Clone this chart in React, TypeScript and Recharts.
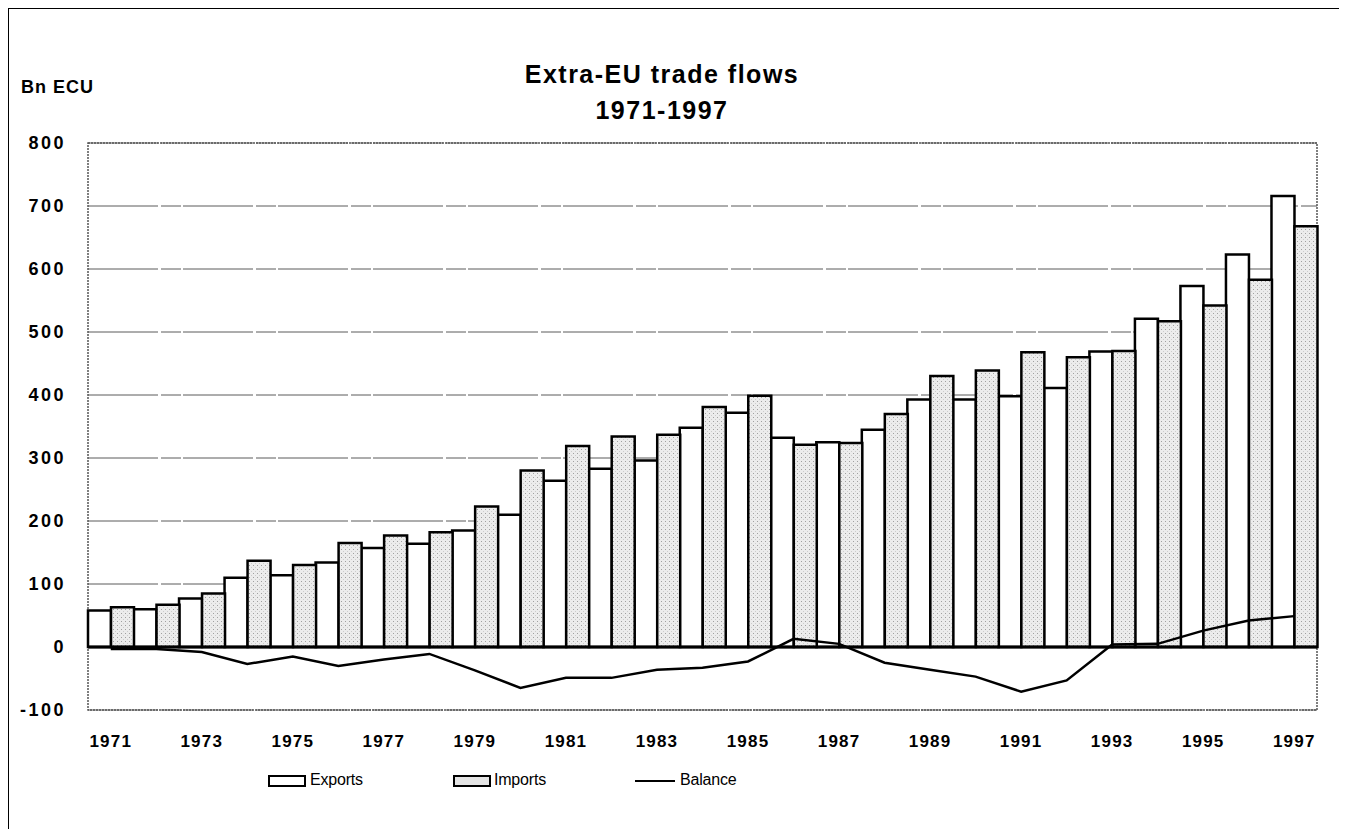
import { ComposedChart, Bar, Line, XAxis, YAxis, CartesianGrid, ReferenceLine, ReferenceArea, Legend } from 'recharts';

const years = [
  '1971', '1972', '1973', '1974', '1975', '1976', '1977', '1978', '1979', '1980',
  '1981', '1982', '1983', '1984', '1985', '1986', '1987', '1988', '1989', '1990',
  '1991', '1992', '1993', '1994', '1995', '1996', '1997',
];

// Bn ECU
const exportsBn = [58, 60, 77, 110, 114, 134, 157, 164, 185, 210, 264, 283, 296, 348, 372, 332, 325, 345, 393, 393, 398, 411, 469, 521, 573, 623, 716];
const importsBn = [63, 67, 85, 137, 130, 165, 177, 182, 223, 280, 319, 334, 337, 381, 399, 321, 324, 370, 430, 439, 468, 460, 470, 517, 542, 583, 668];
const balanceBn = [-3, -3, -8, -27, -15, -30, -20, -11, -37, -65, -49, -49, -36, -33, -23, 13, 5, -25, -36, -47, -71, -53, 4, 5, 26, 42, 49];

const yTicks = [-100, 0, 100, 200, 300, 400, 500, 600, 700, 800];

const data = years.map((year, i) => ({
  year,
  exports: exportsBn[i],
  imports: importsBn[i],
  balance: balanceBn[i],
}));

const FONT = "'Liberation Sans', Arial, sans-serif";

function LegendContent() {
  const text = { position: 'absolute' as const, top: 0, fontFamily: FONT, fontSize: 16, lineHeight: '20px', letterSpacing: -0.2 };
  return (
    <div style={{ position: 'relative', width: 1339, height: 20 }}>
      <div style={{ position: 'absolute', left: 260, top: 5, width: 34, height: 8, border: '2px solid #000', background: '#fff' }} />
      <span style={{ ...text, left: 302 }}>Exports</span>
      <div style={{ position: 'absolute', left: 445, top: 5, width: 34, height: 8, border: '2px solid #000', background: '#e4e4e4' }} />
      <span style={{ ...text, left: 486 }}>Imports</span>
      <div style={{ position: 'absolute', left: 627, top: 10, width: 40, height: 2, background: '#000' }} />
      <span style={{ ...text, left: 672 }}>Balance</span>
    </div>
  );
}

export default function App() {
  return (
    <div style={{ position: 'relative', width: 1331, height: 821 }}>
      {/* scanned page frame: only the left and top edges are on the page */}
      <div style={{ position: 'absolute', left: -1, top: -2, width: 1332, height: 823, borderLeft: '2px solid #000', borderTop: '3px solid #000', zIndex: 2, pointerEvents: 'none' }} />
      <div style={{ position: 'absolute', left: 454, top: 48, width: 400, textAlign: 'center', fontFamily: FONT, fontWeight: 'bold', fontSize: 25, letterSpacing: 1.5, lineHeight: '36px' }}>
        Extra-EU trade flows
        <br />
        1971-1997
      </div>
      <div style={{ position: 'absolute', left: 13, top: 69, fontFamily: FONT, fontWeight: 'bold', fontSize: 18, letterSpacing: 1 }}>
        Bn ECU
      </div>
      <ComposedChart
        width={1331}
        height={821}
        data={data}
        margin={{ top: 135, right: 22, bottom: 89, left: 0 }}
        barCategoryGap={0}
        barGap={0}
      >
        <defs>
          <pattern id="stipple" width="4" height="4" patternUnits="userSpaceOnUse">
            <rect width="4" height="4" fill="#ececec" />
            <rect x="1" y="1" width="1" height="1" fill="#a0a0a0" />
            <rect x="3" y="3" width="1" height="1" fill="#cccccc" />
          </pattern>
        </defs>
        <CartesianGrid vertical={false} stroke="#5a5a5a" strokeDasharray="70 3 20 2" />
        <XAxis
          dataKey="year"
          interval={1}
          axisLine={false}
          tickLine={false}
          tickSize={0}
          tickMargin={25}
          height={30}
          tick={{ fill: '#000', fontFamily: FONT, fontWeight: 'bold', fontSize: 17, letterSpacing: 1.2 }}
        />
        <YAxis
          type="number"
          domain={[-100, 800]}
          ticks={yTicks}
          width={80}
          axisLine={false}
          tickLine={false}
          tickSize={0}
          tickMargin={22}
          tick={{ fill: '#000', fontFamily: FONT, fontWeight: 'bold', fontSize: 18, letterSpacing: 2.5 }}
        />
        <ReferenceArea y1={-100} y2={800} fill="none" stroke="#555" strokeDasharray="2 1" strokeWidth={1.5} />
        <Bar dataKey="exports" name="Exports" fill="#fff" stroke="#000" strokeWidth={2.5} isAnimationActive={false} />
        <Bar dataKey="imports" name="Imports" fill="url(#stipple)" stroke="#000" strokeWidth={2.5} isAnimationActive={false} />
        <ReferenceLine y={0} stroke="#000" strokeWidth={3} />
        <Line dataKey="balance" name="Balance" type="linear" stroke="#000" strokeWidth={2.5} dot={false} isAnimationActive={false} />
        <Legend
          layout="horizontal"
          verticalAlign="middle"
          align="center"
          wrapperStyle={{ top: 762, left: 0, width: 1331 }}
          content={() => <LegendContent />}
        />
      </ComposedChart>
    </div>
  );
}
